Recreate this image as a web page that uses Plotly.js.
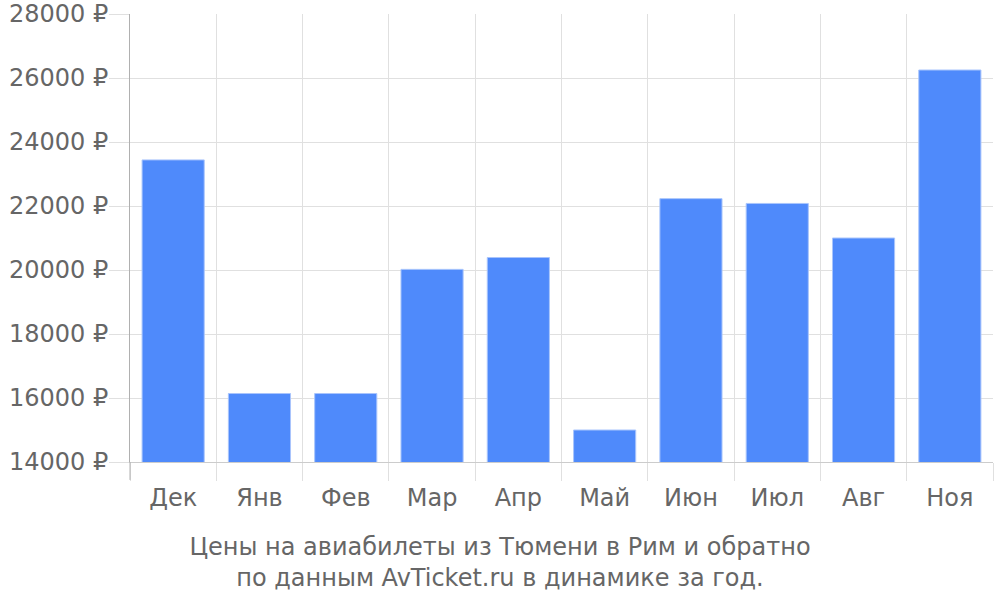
<!DOCTYPE html>
<html>
<head>
<meta charset="utf-8">
<script src="https://cdn.plot.ly/plotly-3.0.1.min.js"></script>
<style>html,body{margin:0;padding:0;background:#fff;}#chart{width:1000px;height:600px;}</style>
</head>
<body>
<div id="chart"></div>
<script>
const months = ["Дек", "Янв", "Фев", "Мар", "Апр", "Май", "Июн", "Июл", "Авг", "Ноя"];
const prices = [23440, 16140, 16140, 20020, 20390, 15000, 22230, 22080, 21000, 26250];
const titleText = "Цены на авиабилеты из Тюмени в Рим и обратно<br>по данным AvTicket.ru в динамике за год.";
const currencySuffix = " ₽";

const trace = {
  type: "bar",
  x: months,
  y: prices,
  marker: { color: "#4f8afb", line: { color: "#a9c5fc", width: 1 } },
  hoverinfo: "x+y"
};

const layout = {
  width: 1000,
  height: 600,
  margin: { l: 130, r: 7, t: 14, b: 138 },
  paper_bgcolor: "#fff",
  plot_bgcolor: "#fff",
  font: { family: "DejaVu Sans", size: 24, color: "#666" },
  bargap: 0.28,
  showlegend: false,
  title: {
    text: titleText,
    x: 0.5,
    xref: "container",
    y: 0.075,
    yref: "container",
    yanchor: "middle",
    font: { family: "DejaVu Sans", size: 24, color: "#666" }
  },
  xaxis: {
    type: "category",
    tickson: "boundaries",
    showgrid: true,
    gridcolor: "#e0e0e0",
    gridwidth: 1,
    ticks: "outside",
    ticklen: 18,
    tickcolor: "#e0e0e0",
    ticklabelstandoff: 14,
    showline: true,
    linecolor: "#cccccc",
    tickfont: { family: "DejaVu Sans", size: 24, color: "#666" }
  },
  yaxis: {
    range: [14000, 28000],
    dtick: 2000,
    tick0: 14000,
    tickformat: "d",
    ticksuffix: currencySuffix,
    showgrid: true,
    gridcolor: "#e0e0e0",
    ticks: "outside",
    ticklen: 20,
    tickcolor: "#e0e0e0",
    ticklabelstandoff: -4,
    showline: true,
    linecolor: "#b0b0b0",
    zeroline: false,
    tickfont: { family: "DejaVu Sans", size: 24, color: "#666" }
  },
  shapes: [
    { type: "line", xref: "paper", yref: "paper", x0: 0, x1: 0, y0: 0, y1: -0.04, line: { color: "#b0b0b0", width: 1 } }
  ]
};

Plotly.newPlot("chart", [trace], layout, { displayModeBar: false, staticPlot: true });
</script>
</body>
</html>
